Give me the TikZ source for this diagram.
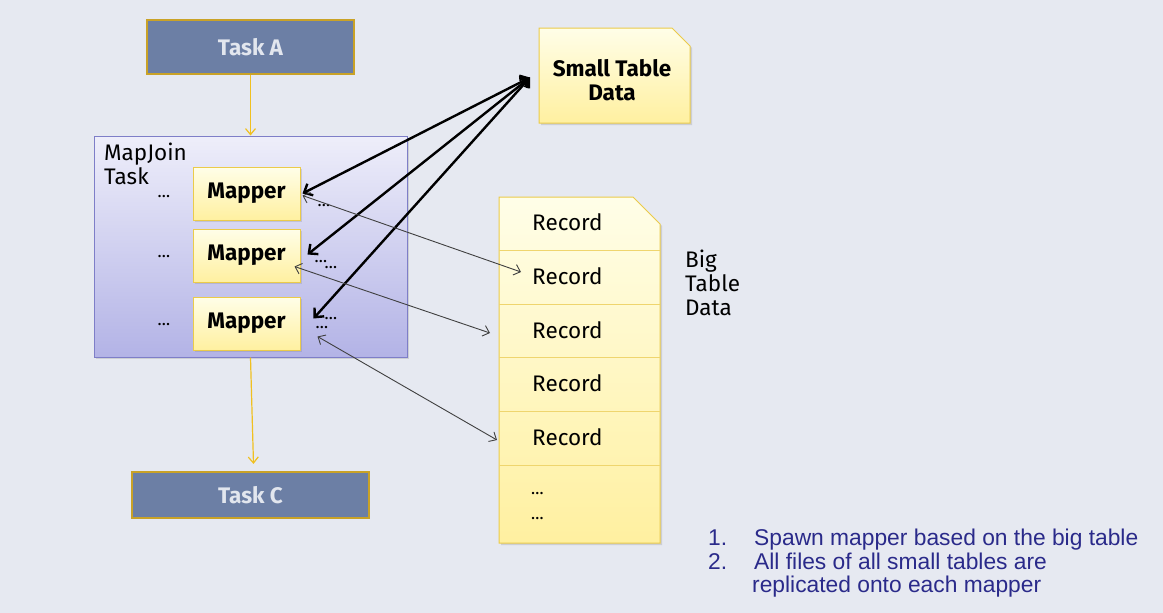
\documentclass[tikz,border=0pt]{standalone}
\usepackage{fontspec}
\setmainfont{Fira Sans}
\newfontfamily\arialf{Liberation Sans}
\usetikzlibrary{arrows.meta,calc,shadows}
\definecolor{bgc}{HTML}{E6E9F1}
\definecolor{taskfill}{HTML}{6C7FA5}
\definecolor{taskborder}{HTML}{C9A227}
\definecolor{tasktext}{HTML}{E2E6EE}
\definecolor{mjtop}{HTML}{EEEEFA}
\definecolor{mjbot}{HTML}{B3B3E6}
\definecolor{mjborder}{HTML}{7E7EC8}
\definecolor{ytop}{HTML}{FFFEE8}
\definecolor{ybot}{HTML}{FFF0A0}
\definecolor{yborder}{HTML}{EBCB4A}
\definecolor{goldline}{HTML}{F0C020}
\definecolor{notec}{HTML}{2A2A8A}
\definecolor{thinc}{HTML}{404040}
\tikzset{
  taskbox/.style={draw=taskborder, line width=2.2pt, fill=taskfill, text=tasktext,
    font=\fontsize{22.5}{24}\selectfont\bfseries, inner sep=0pt},
  mjbox/.style={draw=mjborder, line width=1pt, top color=mjtop, bottom color=mjbot,
    inner sep=0pt, drop shadow={opacity=0.25, shadow xshift=2pt, shadow yshift=-2pt}},
  mapperbox/.style={draw=yborder, line width=1pt, top color=ytop, bottom color=ybot,
    font=\fontsize{22.5}{24}\selectfont\bfseries, inner sep=0pt,
    minimum width=107pt, minimum height=53pt,
    drop shadow={opacity=0.25, shadow xshift=2pt, shadow yshift=-2pt}},
  holder/.style={inner sep=0pt, outer sep=0pt},
  notefill/.style={draw=yborder, line width=1pt, top color=ytop, bottom color=ybot,
    drop shadow={opacity=0.25, shadow xshift=2pt, shadow yshift=-2pt}},
  lbl/.style={font=\fontsize{22.5}{24}\selectfont, inner sep=0pt, align=left},
  dotlbl/.style={font=\fontsize{17}{18}\selectfont, inner sep=0pt},
  goldarrow/.style={draw=goldline, line width=1.2pt, -{Straight Barb[length=6pt,width=10pt]}},
  thickarrow/.style={draw=black, line width=2.4pt,
    {Straight Barb[length=7pt,width=13pt]}-{Straight Barb[length=7pt,width=13pt]}},
  thinarrow/.style={draw=thinc, line width=0.9pt,
    {Straight Barb[length=6pt,width=11pt]}-{Straight Barb[length=6pt,width=11pt]}},
  divider/.style={draw=yborder!80, line width=0.8pt},
  note/.style={font=\arialf\fontsize{22.8}{24}\selectfont, text=notec, inner sep=0pt, anchor=base west}
}
\begin{document}
\begin{tikzpicture}[x=1pt,y=-1pt]
\fill[bgc] (0,0) rectangle (1163,613);
\useasboundingbox (0,0) rectangle (1163,613);

% Tasks
\node[taskbox, minimum width=207pt, minimum height=54pt] (ta) at (250.5,47) {Task A};
\node[taskbox, minimum width=237pt, minimum height=46pt] (tc) at (250.5,495) {Task C};

% MapJoin task
\node[mjbox, minimum width=313pt, minimum height=221pt] (mj) at (250.5,246.5) {};
\node[lbl, anchor=north west] (mjl) at (104,143) {MapJoin\\Task};

% Mappers
\node[mapperbox] (m1) at (246.5,193.5) {Mapper};
\node[mapperbox] (m2) at (246.5,255.5) {Mapper};
\node[mapperbox] (m3) at (246.5,323.5) {Mapper};

% dots
\node[dotlbl] (d1) at (164,197) {\dots};
\node[dotlbl] (d2) at (164,257) {\dots};
\node[dotlbl] (d3) at (164,325) {\dots};
\node[dotlbl] (d4) at (324,206) {\dots};
\node[dotlbl] (d5) at (321,262) {\dots};
\node[dotlbl] (d6) at (331,268) {\dots};
\node[dotlbl] (d7) at (331,319) {\dots};
\node[dotlbl] (d8) at (322,328) {\dots};

% Small table
\node[holder, minimum width=151pt, minimum height=95pt] (st) at (614.5,75.5) {};
\path[notefill] (st.north west) -- ($(st.north east)+(-18,0)$) -- ($(st.north east)+(0,18)$)
   -- (st.south east) -- (st.south west) -- cycle;
\node[font=\fontsize{22.5}{24}\selectfont\bfseries, align=center, inner sep=0pt] (stl) at (612,80) {Small Table\\Data};

% Big table
\node[holder, minimum width=161pt, minimum height=346pt] (bt) at (579.5,370) {};
\path[notefill] (bt.north west) -- ($(bt.north east)+(-27,0)$) -- ($(bt.north east)+(0,27)$)
   -- (bt.south east) -- (bt.south west) -- cycle;
\foreach \yy in {250,304,357,411,465} {
  \draw[divider] (bt.west |- 0,\yy) -- (bt.east |- 0,\yy);
}
\node[lbl, anchor=west] (r1) at (532,222) {Record};
\node[lbl, anchor=west] (r2) at (532,276) {Record};
\node[lbl, anchor=west] (r3) at (532,330) {Record};
\node[lbl, anchor=west] (r4) at (532,383) {Record};
\node[lbl, anchor=west] (r5) at (532,437) {Record};
\node[dotlbl, anchor=west] (r6) at (531,494) {\dots};
\node[dotlbl, anchor=west] (r7) at (531,519) {\dots};
\node[lbl, anchor=north west] (btl) at (685,250) {Big\\Table\\Data};

% gold arrows
\draw[goldarrow] (ta.south) -- (mj.north);
\draw[goldarrow] (mj.south) -- ($(tc.north)+(3,-7)$);

% thick arrows
\coordinate (sta) at ($(st.west)+(-9,2)$);
\draw[thickarrow] (sta) -- ($(m1.east)+(2,0)$);
\draw[thickarrow] (sta) -- ($(m2.east)+(7,-1)$);
\draw[thickarrow] (sta) -- ($(m3.east)+(13,-5)$);

% thin arrows
\draw[thinarrow] ($(m1.east)+(2,2)$) -- ($(r2.west)+(-11,-4)$);
\draw[thinarrow] ($(m2.east)+(-6,11)$) -- ($(bt.west |- r3)+(-9,3)$);
\draw[thinarrow] ($(m3.east)+(17,13)$) -- ($(bt.west |- r5)+(-2,3)$);

% notes
\node[note] (n1) at (708,545) {1.};
\node[note] (n1t) at (754,545) {Spawn mapper based on the big table};
\node[note] (n2) at (708,569) {2.};
\node[note] (n2t) at (754,569) {All files of all small tables are};
\node[note] (n3t) at (752,592) {replicated onto each mapper};
\end{tikzpicture}
\end{document}
